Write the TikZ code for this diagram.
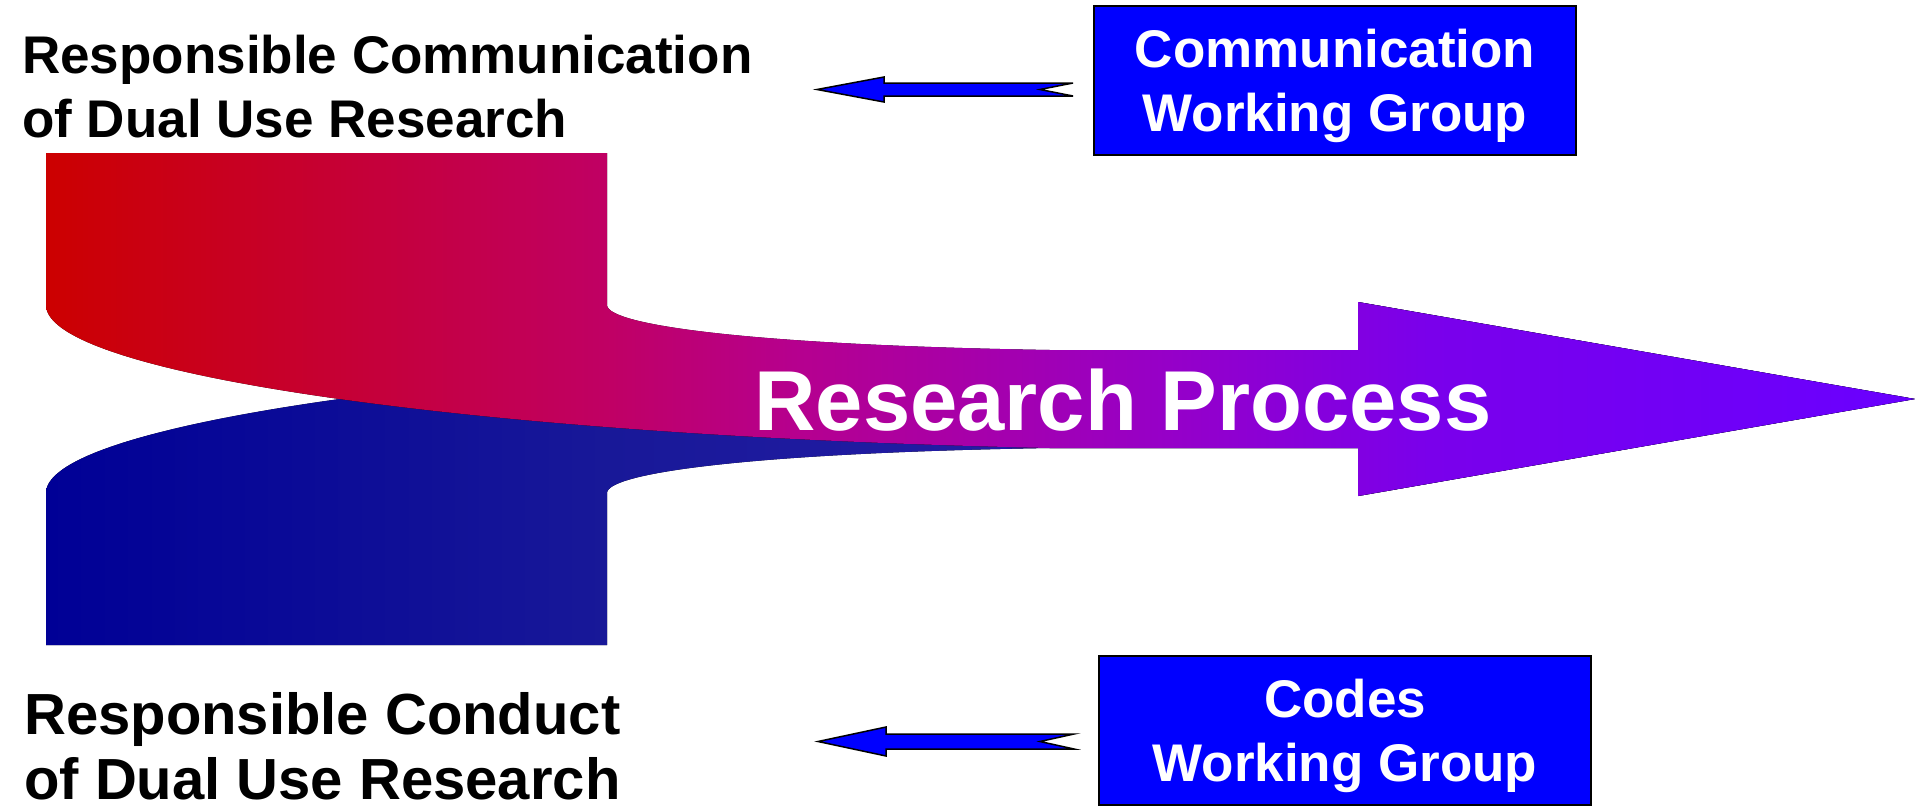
\documentclass[tikz,border=0pt]{standalone}
\usepackage{fontspec}
\setmainfont{Liberation Sans}
\usepackage{tikz}
\definecolor{wgblue}{RGB}{0,0,255}
\definecolor{flowred}{RGB}{204,0,0}
\definecolor{flowrose}{RGB}{192,0,100}
\definecolor{flowmagenta}{RGB}{182,0,142}
\definecolor{flowpurple}{RGB}{150,0,200}
\definecolor{flowviolet}{RGB}{122,0,235}
\definecolor{flowtip}{RGB}{105,0,255}
\definecolor{navyA}{RGB}{0,0,150}
\definecolor{navyB}{RGB}{24,24,152}
\definecolor{navyC}{RGB}{40,30,170}
\definecolor{navyD}{RGB}{60,30,200}
\pgfdeclarehorizontalshading{upperflow}{100bp}{color(0bp)=(flowred); color(25bp)=(flowred); color(40bp)=(flowrose); color(45bp)=(flowmagenta); color(55bp)=(flowpurple); color(62bp)=(flowviolet); color(75bp)=(flowtip); color(100bp)=(flowtip)}
\pgfdeclarehorizontalshading{lowerflow}{100bp}{color(0bp)=(navyA); color(25bp)=(navyA); color(40bp)=(navyB); color(55bp)=(navyC); color(75bp)=(navyD); color(100bp)=(navyD)}
\tikzset{
	flowlabel/.style={inner sep=0pt, align=left, anchor=base west, text depth=0pt},
	wgbox/.style={draw=black, line width=2pt, fill=wgblue, text=white, align=center, inner sep=0pt, text depth=0pt, font=\fontsize{53}{64}\selectfont\bfseries},
	wgarrow/.style={draw=black, fill=wgblue, line width=1.5pt, line join=miter},
}

\begin{document}
\begin{tikzpicture}[x=1pt,y=-1pt]
	\useasboundingbox (0,0) rectangle (1915,806);
	\fill[shading=lowerflow] (46,645) -- (46,493) .. controls (46,423) and (480,362) .. (1050,350) -- (1358,350) -- (1358,302) -- (1915,399) -- (1358,496) -- (1358,448) -- (1050,448) .. controls (750,453) and (607,473) .. (607,493) -- (607,645) -- cycle;
	\fill[shading=upperflow] (46,153) -- (607,153) -- (607,305) .. controls (607,325) and (750,345) .. (1050,350) -- (1358,350) -- (1358,302) -- (1915,399) -- (1358,496) -- (1358,448) -- (1050,448) .. controls (480,436) and (46,375) .. (46,305) -- cycle;
	\node[inner sep=0pt, anchor=base, text=white, font=\fontsize{85}{100}\selectfont\bfseries] (process) at (1123,430) {Research Process};
	\node[flowlabel, font=\fontsize{53}{64}\selectfont\bfseries] (commlabel) at (22,137) {Responsible Communication\\of Dual Use Research};
	\node[flowlabel, font=\fontsize{58}{65}\selectfont\bfseries] (conductlabel) at (24,799) {Responsible Conduct\\of Dual Use Research};
	\node[wgbox, minimum width=482pt, minimum height=149pt] (commgroup) at (1335,80.5) {Communication\\Working Group};
	\node[wgbox, minimum width=492pt, minimum height=149pt] (codesgroup) at (1345,730.5) {Codes\\Working Group};
	\coordinate (commtip) at (817,89.5);
	\coordinate (codestip) at (818,741.5);
	\draw[wgarrow] (commtip) -- ++(67,-12.5) -- ++(0,6) -- ++(189,0) -- ++(-33,6.5) -- ++(33,6.5) -- ++(-189,0) -- ++(0,6) -- cycle;
	\draw[wgarrow] (codestip) -- ++(68,-14.5) -- ++(0,7) -- ++(188,0) -- ++(-34,7.5) -- ++(34,7.5) -- ++(-188,0) -- ++(0,7) -- cycle;
\end{tikzpicture}
\end{document}
